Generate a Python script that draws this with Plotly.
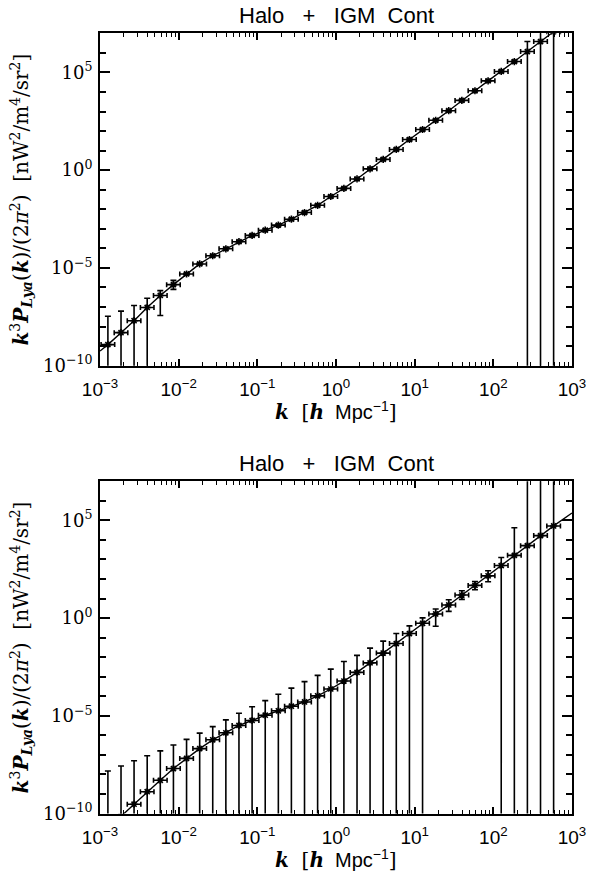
import plotly.graph_objects as go

# ---------------- data ----------------
# bin-centre wavenumbers k [h/Mpc] (shared by both panels)
k = [1.26e-3, 1.85e-3, 2.71e-3, 3.98e-3, 5.84e-3, 8.58e-3,
     1.26e-2, 1.85e-2, 2.71e-2, 3.98e-2, 5.84e-2, 8.58e-2,
     0.126, 0.185, 0.271, 0.398, 0.584, 0.858,
     1.26, 1.85, 2.71, 3.98, 5.84, 8.58,
     12.6, 18.5, 27.1, 39.8, 58.4, 85.8,
     126.0, 185.0, 271.0, 398.0, 584.0]

# top panel: measured power and error-bar ends
top_P = [1.2e-9, 4.9e-9, 2.0e-8, 9.5e-8, 3.9e-7, 1.4e-6,
         4.9e-6, 1.6e-5, 4.2e-5, 9.5e-5, 2.2e-4, 4.6e-4,
         8.5e-4, 1.55e-3, 3.1e-3, 6.8e-3, 1.6e-2, 4.5e-2,
         0.117, 0.355, 1.17, 3.55, 11.5, 37.0,
         120.0, 355.0, 1.1e3, 3.7e3, 1.15e4, 3.7e4,
         1.12e5, 3.6e5, 1.17e6, 3.8e6, 1.2e7]
top_hi = [3.4e-8, 6.2e-8, 1.2e-7, 2.8e-7, 6.9e-7, 2.3e-6,
          5.6e-6, 1.85e-5, 4.8e-5, 1.1e-4, 2.5e-4, 5.3e-4,
          9.8e-4, 1.8e-3, 3.6e-3, 7.8e-3, 1.85e-2, 5.2e-2,
          0.135, 0.41, 1.35, 4.1, 13.2, 42.5,
          138.0, 410.0, 1.27e3, 4.25e3, 1.32e4, 4.25e4,
          1.29e5, 4.15e5, 3.8e6, 1e9, 1e9]
top_lo = [1e-13, 1e-13, 1e-13, 1e-13, 3.7e-8, 8e-7,
          4.3e-6, 1.4e-5, 3.65e-5, 8.3e-5, 1.9e-4, 4.0e-4,
          7.4e-4, 1.35e-3, 2.7e-3, 5.9e-3, 1.4e-2, 3.9e-2,
          0.102, 0.31, 1.02, 3.1, 10.0, 32.0,
          104.0, 310.0, 957.0, 3.2e3, 1.0e4, 3.2e4,
          9.7e4, 3.1e5, 1e-13, 1e-13, 1e-13]
# top panel model curve
top_line_k = [1.0e-3] + k + [7.1e2]
top_line_P = [5.6e-10] + top_P + [2.2e7]

# bottom panel
bot_P = [1.6e-11, 7.1e-11, 3.0e-10, 1.3e-9, 5.0e-9, 2.0e-8,
         6.6e-8, 2.1e-7, 5.9e-7, 1.35e-6, 3.2e-6, 5.75e-6,
         1.07e-5, 1.8e-5, 3.1e-5, 5.1e-5, 1.05e-4, 2.35e-4,
         6.0e-4, 1.66e-3, 5.1e-3, 1.62e-2, 5.0e-2, 0.162,
         0.54, 1.62, 4.7, 15.1, 47.0, 145.0,
         490.0, 1.62e3, 5.1e3, 1.66e4, 5.2e4]
bot_hi = [1.5e-8, 2.7e-8, 5.0e-8, 9.1e-8, 1.6e-7, 3.2e-7,
          6.2e-7, 1.3e-6, 2.8e-6, 6.2e-6, 1.35e-5, 2.9e-5,
          6.0e-5, 1.26e-4, 2.6e-4, 5.6e-4, 1.17e-3, 2.45e-3,
          6.0e-3, 1.23e-2, 2.9e-2, 6.6e-2, 0.162, 0.40,
          1.02, 2.9, 8.7, 25.0, 74.0, 263.0,
          1.26e3, 4.2e4, 1e9, 1e9, 1e9]
bot_lo = [1e-13] * 25 + [0.38, 2.2, 9.1, 28.0, 72.0] + [1e-13] * 5
bot_line_k = [1.0e-3] + k + [1.0e3]
bot_line_P = [6.3e-12] + bot_P + [2.4e5]

K_BIN_FACTOR = 1.22   # half-width of each k bin (multiplicative)

TITLE = "Halo\u00a0\u00a0\u00a0+\u00a0\u00a0\u00a0IGM\u00a0\u00a0Cont"
X_TICKS = [1e-3, 1e-2, 1e-1, 1e0, 1e1, 1e2, 1e3]
X_TICKTEXT = ["10<sup>\u22123</sup>", "10<sup>\u22122</sup>", "10<sup>\u22121</sup>",
              "10<sup>0</sup>", "10<sup>1</sup>", "10<sup>2</sup>", "10<sup>3</sup>"]
Y_TICKS = [1e-10, 1e-5, 1e0, 1e5]
Y_TICKTEXT = ["10<sup>\u221210</sup>", "10<sup>\u22125</sup>", "10<sup>0</sup>", "10<sup>5</sup>"]

# ---------------- figure ----------------
W, H = 590, 873
X0, X1 = 100, 572
PANELS = [(33.3, 365.7), (481.3, 813.5)]
SERIF = "DejaVu Serif"
SANS = "Liberation Sans"

x_minor = [m * 10.0 ** d for d in range(-3, 3) for m in range(2, 10)]
y_minor = [10.0 ** d for d in range(-9, 7) if d % 5 != 0]

fig = go.Figure()

datasets = [(top_P, top_hi, top_lo, top_line_k, top_line_P),
            (bot_P, bot_hi, bot_lo, bot_line_k, bot_line_P)]

for i, (P, hi, lo, lk, lP) in enumerate(datasets):
    xa = "x" if i == 0 else "x2"
    ya = "y" if i == 0 else "y2"
    fig.add_trace(go.Scatter(x=lk, y=lP, mode="lines", xaxis=xa, yaxis=ya,
                             line=dict(color="black", width=1.4), showlegend=False))
    fig.add_trace(go.Scatter(
        x=k, y=P, mode="markers", xaxis=xa, yaxis=ya, showlegend=False,
        marker=dict(symbol="asterisk-open", size=6, color="black",
                    line=dict(color="black", width=1.6)),
        error_x=dict(type="data", symmetric=False,
                     array=[kk * K_BIN_FACTOR - kk for kk in k],
                     arrayminus=[kk - kk / K_BIN_FACTOR for kk in k],
                     color="black", thickness=1.6, width=2.5),
        error_y=dict(type="data", symmetric=False,
                     array=[h - p for h, p in zip(hi, P)],
                     arrayminus=[p - l for p, l in zip(P, lo)],
                     color="black", thickness=1.6, width=3),
    ))

axis_common = dict(showline=True, linecolor="black", linewidth=1.8, mirror="ticks",
                   ticks="inside", tickcolor="black", showgrid=False, zeroline=False,
                   type="log", automargin=False)

layout_axes = {}
for i, (top, bot) in enumerate(PANELS):
    sx = "" if i == 0 else "2"
    layout_axes["xaxis" + sx] = dict(
        axis_common, domain=[X0 / W, X1 / W], range=[-3, 3],
        anchor="y" + sx, tickmode="array", tickvals=X_TICKS, ticktext=X_TICKTEXT,
        ticklen=7, tickwidth=1.5, ticklabelstandoff=6,
        tickfont=dict(family=SANS, size=19, color="black"),
        minor=dict(ticks="inside", ticklen=4, tickwidth=1.2, tickcolor="black",
                   tickmode="array", tickvals=x_minor))
    layout_axes["yaxis" + sx] = dict(
        axis_common, domain=[1 - bot / H, 1 - top / H], range=[-10, 7],
        anchor="x" + sx, tickmode="array", tickvals=Y_TICKS, ticktext=Y_TICKTEXT,
        ticklen=10, tickwidth=1.5, ticklabelstandoff=2,
        tickfont=dict(family=SERIF, size=18, color="black"),
        minor=dict(ticks="inside", ticklen=6, tickwidth=1.5, tickcolor="black",
                   tickmode="array", tickvals=y_minor))

YTITLE = ("<b><i>k</i></b><sup>3</sup><b><i>P</i></b><sub><b><i>Lya</i></b></sub>(<b><i>k</i></b>)"
          "/(2<i>\u03c0</i><sup>2</sup>)\u00a0\u00a0[nW<sup>2</sup>/m<sup>4</sup>/sr<sup>2</sup>]")
XTITLE = ("<span style='font-family:DejaVu Serif'><b><i>k</i></b>\u00a0\u00a0[<b><i>h</i></b></span>"
          "\u00a0\u00a0Mpc<sup>\u22121</sup><span style='font-family:DejaVu Serif'>]</span>")

annotations = []
for i, (top, bot) in enumerate(PANELS):
    cx = (X0 + X1) / 2 / W
    annotations.append(dict(text=TITLE, x=cx, y=1 - (top - 18) / H, xref="paper", yref="paper",
                            showarrow=False, xanchor="center", yanchor="middle",
                            font=dict(family=SANS, size=22, color="black")))
    annotations.append(dict(text=XTITLE, x=cx, y=1 - (bot + 45) / H, xref="paper", yref="paper",
                            showarrow=False, xanchor="center", yanchor="middle",
                            font=dict(family=SANS, size=20, color="black")))
    annotations.append(dict(text=YTITLE, x=21 / W, y=1 - (top + bot) / 2 / H,
                            xref="paper", yref="paper", textangle=-90,
                            showarrow=False, xanchor="center", yanchor="middle",
                            font=dict(family=SERIF, size=20, color="black")))

fig.update_layout(width=W, height=H, margin=dict(l=0, r=0, t=0, b=0),
                  paper_bgcolor="white", plot_bgcolor="white",
                  annotations=annotations, showlegend=False, **layout_axes)

fig.write_html("out.html")
